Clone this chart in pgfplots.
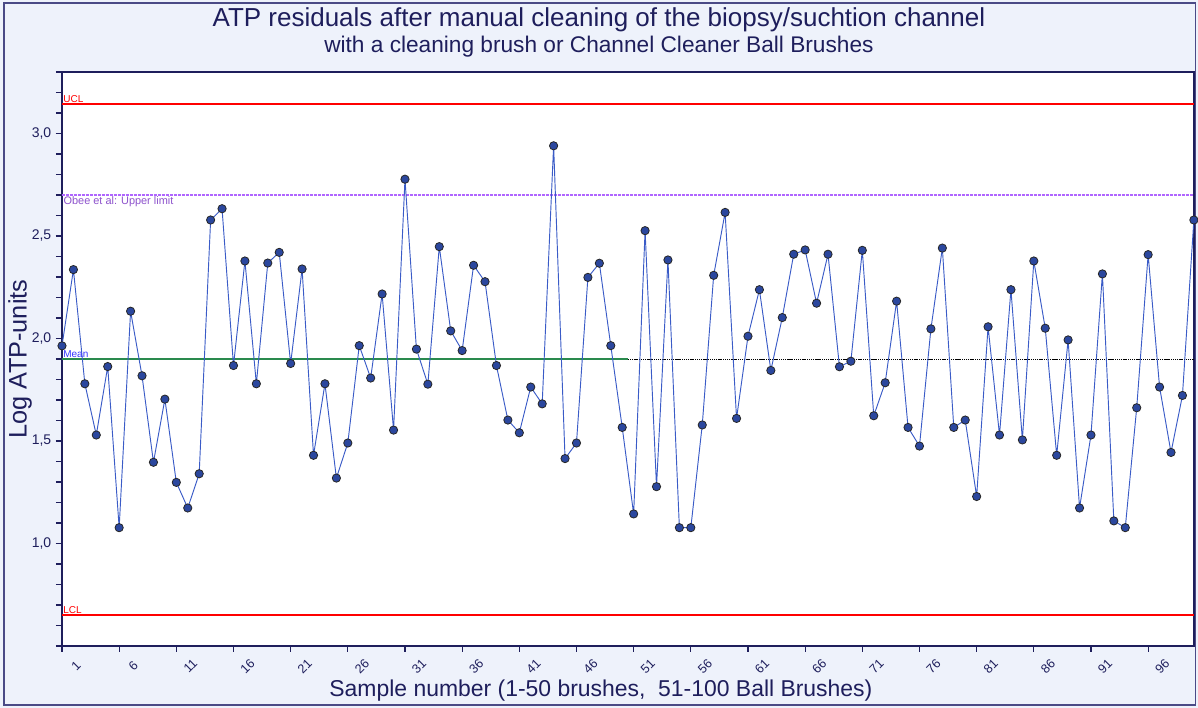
\documentclass[border=0pt]{standalone}
\usepackage{pgfplots}
\pgfplotsset{compat=1.18}
\usepackage{fontspec}
\setmainfont{Liberation Sans}

\definecolor{bgblue}{HTML}{EEF2FB}
\definecolor{navy}{HTML}{1E1E5C}
\definecolor{framecol}{HTML}{4A4A86}
\definecolor{serieline}{HTML}{3A5BC7}
\definecolor{seriefill}{HTML}{2B479E}
\definecolor{obee}{HTML}{B066FF}
\definecolor{meangreen}{HTML}{2A8A4E}
\definecolor{meanblue}{HTML}{3535FF}

\pgfdeclarelayer{bg}
\pgfsetlayers{bg,main}

% log ATP-units per sample, 1-50 brushes, 51-100 ball brushes
\begin{document}
\begin{tikzpicture}[x=0.75pt,y=0.75pt]
\begin{axis}[
  width=849pt, height=430.5pt, scale only axis,
  xmin=1, xmax=100, ymin=0.5, ymax=3.3,
  axis background/.style={fill=white},
  axis line style={navy, line width=1.7pt},
  tick style={navy, line width=0.9pt},
  major tick length=4.5pt, minor tick length=4.5pt,
  tick align=outside,
  xtick pos=bottom, ytick pos=left,
  xtick={1,6,...,96},
  ytick={1.0,1.5,2.0,2.5,3.0},
  minor ytick={0.5,0.6,...,3.31},
  yticklabel style={/pgf/number format/.cd, use comma, fixed, fixed zerofill, precision=1},
  /pgf/number format/assume math mode=true,
  ticklabel style={font=\fontsize{10.5}{12}\selectfont, text=navy},
  xticklabel style={rotate=45, anchor=center, yshift=-15pt, font=\fontsize{9.5}{10}\selectfont},
  clip=false,
]
\coordinate (ll) at (rel axis cs:0,0);
% control lines
\addplot[color=obee, line width=0.8pt, dash pattern=on 2pt off 1pt] coordinates {(1,2.70)(100,2.70)};
\addplot[color=meangreen, line width=1.5pt] coordinates {(1,1.898)(50.5,1.898)};
\addplot[color=black, line width=1.3pt, dash pattern=on 0.9pt off 0.5pt] coordinates {(50.5,1.898)(100,1.898)};
\addplot[draw=red, line width=1.5pt] coordinates {(1,3.146)(100,3.146)};
\addplot[draw=red, line width=1.5pt] coordinates {(1,0.649)(100,0.649)};

\addplot[serieline, line width=0.7pt, mark=*, mark size=3.1pt,
  mark options={fill=seriefill, draw=black!85, line width=0.6pt}] coordinates {
(1,1.964)(2,2.336)(3,1.779)(4,1.529)(5,1.863)(6,1.077)(7,2.133)(8,1.818)(9,1.396)(10,1.704)
(11,1.298)(12,1.173)(13,1.340)(14,2.578)(15,2.633)(16,1.868)(17,2.378)(18,1.779)(19,2.368)(20,2.420)
(21,1.878)(22,2.339)(23,1.430)(24,1.779)(25,1.319)(26,1.490)(27,1.965)(28,1.807)(29,2.217)(30,1.553)
(31,2.777)(32,1.948)(33,1.777)(34,2.448)(35,2.037)(36,1.941)(37,2.357)(38,2.277)(39,1.868)(40,1.602)
(41,1.540)(42,1.763)(43,1.681)(44,2.940)(45,1.414)(46,1.490)(47,2.298)(48,2.367)(49,1.965)(50,1.566)
(51,1.144)(52,2.526)(53,1.277)(54,2.383)(55,1.077)(56,1.077)(57,1.578)(58,2.308)(59,2.615)(60,1.610)
(61,2.011)(62,2.238)(63,1.844)(64,2.102)(65,2.411)(66,2.432)(67,2.172)(68,2.411)(69,1.862)(70,1.889)
(71,2.430)(72,1.623)(73,1.784)(74,2.182)(75,1.566)(76,1.475)(77,2.047)(78,2.441)(79,1.566)(80,1.602)
(81,1.229)(82,2.057)(83,1.529)(84,2.238)(85,1.505)(86,2.378)(87,2.050)(88,1.430)(89,1.993)(90,1.173)
(91,1.529)(92,2.315)(93,1.110)(94,1.077)(95,1.662)(96,2.409)(97,1.763)(98,1.444)(99,1.722)(100,2.578)
};

\node[anchor=south west, inner sep=0.8pt, text=red, font=\fontsize{7.5}{8}\selectfont] at (axis cs:1,3.146) {UCL};
\node[anchor=south west, inner sep=0.8pt, text=red, font=\fontsize{7.5}{8}\selectfont] at (axis cs:1,0.649) {LCL};
\node[anchor=north west, inner sep=1pt, text=obee!80!black, font=\fontsize{8.2}{9}\selectfont] at (axis cs:1,2.70) {Obee et al: Upper limit};
\node[anchor=south west, inner sep=0.8pt, text=meanblue, font=\fontsize{7.5}{8}\selectfont] at (axis cs:1,1.898) {Mean};
\end{axis}

% page: 1198 x 708 px, axis box lower-left at (62,62) px from lower-left
\begin{scope}[shift={(ll)}]
\begin{pgfonlayer}{bg}
\fill[bgblue] (-62,-62) rectangle (1136,646);
\draw[framecol, line width=0.9pt] (-58,-59) rectangle (1134,643);
\end{pgfonlayer}
\node[anchor=base, text=navy, font=\fontsize{19.5}{22}\selectfont] at (537,619) {ATP residuals after manual cleaning of the biopsy/suchtion channel};
\node[anchor=base, text=navy, font=\fontsize{17}{20}\selectfont] at (537,593) {with a cleaning brush or Channel Cleaner Ball Brushes};
\node[anchor=base, text=navy, font=\fontsize{17.2}{20}\selectfont] at (539,-51) {Sample number (1-50 brushes,\ \ 51-100 Ball Brushes)};
\node[anchor=center, rotate=90, text=navy, font=\fontsize{19}{22}\selectfont] at (-42,287) {Log ATP-units};
\end{scope}
\end{tikzpicture}
\end{document}
